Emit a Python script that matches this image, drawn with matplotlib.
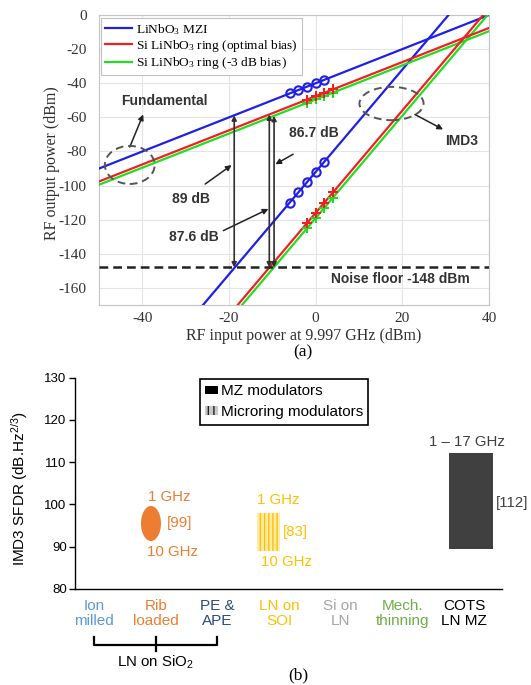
import matplotlib
matplotlib.use('Agg')
import matplotlib.pyplot as plt
from matplotlib.patches import Ellipse, Rectangle, Patch
from matplotlib.lines import Line2D

plt.rcParams['font.family'] = ['Liberation Sans', 'DejaVu Sans']
plt.rcParams['axes.unicode_minus'] = False
plt.rcParams['hatch.linewidth'] = 1.0
SERIF = ['Liberation Serif', 'DejaVu Serif']

# ---------------- (a) data ----------------
pin_range = [-50, 40]
mzi_fund = [-90.0, 0.0]
ring_opt_fund = [-97.6, -7.6]
ring_3db_fund = [-99.5, -9.5]
mzi_imd3 = [-242.0, 28.0]
ring_opt_imd3 = [-266.0, 4.0]
ring_3db_imd3 = [-269.0, 1.0]

mzi_meas_pin = [-6, -4, -2, 0, 2]
mzi_meas_fund = [-46, -44, -42, -40, -38]
mzi_meas_imd3 = [-110, -104, -98, -92, -86]
ring_meas_pin = [-2, 0, 2, 4]
ring_opt_meas_fund = [-49.6, -47.6, -45.6, -43.6]
ring_opt_meas_imd3 = [-122, -116, -110, -104]
ring_3db_meas_fund = [-51.5, -49.5, -47.5, -45.5]
ring_3db_meas_imd3 = [-125, -119, -113, -107]

noise_floor = -148
sfdr_pin = [-18.8, -10.7, -9.6]
sfdr_top = [-58.8, -58.3, -59.1]
sfdr_labels = ['89 dB', '87.6 dB', '86.7 dB']
series_labels = [r'$\mathregular{LiNbO_3}$ MZI',
                 r'Si $\mathregular{LiNbO_3}$ ring (optimal bias)',
                 r'Si $\mathregular{LiNbO_3}$ ring (-3 dB bias)']
series_colors = ['#1f1fe6', '#f02020', '#22dd22']

# ---------------- (b) data ----------------
categories = ['Ion\nmilled', 'Rib\nloaded', 'PE &\nAPE', 'LN on\nSOI',
              'Si on\nLN', 'Mech.\nthinning', 'COTS\nLN MZ']
cat_colors = ['#5B9BD5', '#ED7D31', '#2F4A7A', '#FFC000', '#A5A5A5',
              '#70AD47', '#000000']
rib_sfdr = [91.3, 99.6]
soi_sfdr = [89.0, 97.9]
cots_sfdr = [89.3, 112.1]
yticks_b = [80, 90, 100, 110, 120, 130]

W, H = 531, 685
fig = plt.figure(figsize=(W / 100, H / 100), dpi=100)

# ================= (a) =================
ax1 = fig.add_axes([99 / W, 1 - 305 / H, 390 / W, 290 / H])
ax1.set_xlim(-50, 40)
ax1.set_ylim(-170, 0)
ax1.set_xticks([-40, -20, 0, 20, 40])
ax1.set_yticks(list(range(-160, 1, 20)))
ax1.grid(True, color='#e4e4e4', lw=0.8)
ax1.set_axisbelow(True)
for s in ax1.spines.values():
    s.set_color('#c4c4c4')
    s.set_linewidth(0.8)
ax1.tick_params(length=0, labelsize=11, colors='#333333')
ax1.tick_params(axis='y', pad=9)
ax1.tick_params(axis='x', pad=5)
for t in ax1.get_xticklabels() + ax1.get_yticklabels():
    t.set_family(SERIF)

fund = [mzi_fund, ring_opt_fund, ring_3db_fund]
imd3 = [mzi_imd3, ring_opt_imd3, ring_3db_imd3]
for i in [0, 2, 1]:
    ax1.plot(pin_range, fund[i], color=series_colors[i], lw=1.6, zorder=3)
    ax1.plot(pin_range, imd3[i], color=series_colors[i], lw=1.6, zorder=3)

ax1.plot(mzi_meas_pin, mzi_meas_fund, 'o', mfc='none', mec=series_colors[0], ms=6, mew=1.5, zorder=4)
ax1.plot(mzi_meas_pin, mzi_meas_imd3, 'o', mfc='none', mec=series_colors[0], ms=6, mew=1.5, zorder=4)
ax1.plot(ring_meas_pin, ring_3db_meas_fund, '+', color=series_colors[2], ms=7, mew=1.5, zorder=4)
ax1.plot(ring_meas_pin, ring_3db_meas_imd3, '+', color=series_colors[2], ms=7, mew=1.5, zorder=4)
ax1.plot(ring_meas_pin, ring_opt_meas_fund, '+', color=series_colors[1], ms=7, mew=1.5, zorder=4)
ax1.plot(ring_meas_pin, ring_opt_meas_imd3, '+', color=series_colors[1], ms=7, mew=1.5, zorder=4)

ax1.axhline(noise_floor, color='#222222', lw=1.8, ls=(0, (3.5, 2)), zorder=5)

for xp, yt in zip(sfdr_pin, sfdr_top):
    ax1.annotate('', xy=(xp, noise_floor), xytext=(xp, yt),
                 arrowprops=dict(arrowstyle='<|-|>', color='#303030', lw=1.2,
                                 mutation_scale=7, shrinkA=0, shrinkB=0), zorder=6)

bold = dict(fontsize=10, fontweight='bold', color='#333333', ha='center', va='center')
ax1.text(-34.8, -50.7, 'Fundamental', **bold)
ax1.text(33.7, -73.9, 'IMD3', **bold)
ax1.text(-28.8, -107.9, sfdr_labels[0], **bold)
ax1.text(-28.2, -130.2, sfdr_labels[1], **bold)
ax1.text(-0.4, -69.0, sfdr_labels[2], **bold)
ax1.text(19.5, -154.5, 'Noise floor -148 dBm', **bold)

arr = dict(arrowstyle='-|>', color='#222222', lw=1.1, mutation_scale=8, shrinkA=0, shrinkB=0)
ax1.annotate('', xy=(-39.8, -58.3), xytext=(-42.9, -77.4), arrowprops=arr)
ax1.annotate('', xy=(29.4, -67.1), xytext=(22.9, -58.3), arrowprops=arr)
ax1.annotate('', xy=(-19.4, -88.0), xytext=(-25.5, -99.1), arrowprops=arr)
ax1.annotate('', xy=(-10.9, -113.7), xytext=(-21.3, -126.4), arrowprops=arr)
ax1.annotate('', xy=(-9.3, -87.5), xytext=(-5.2, -81.6), arrowprops=arr)

ax1.add_patch(Ellipse((-42.9, -87.9), 11.5, 22.3, fill=False, ec='#555555',
                      lw=1.4, ls=(0, (4, 2.5)), zorder=6))
ax1.add_patch(Ellipse((17.5, -51.9), 14.8, 19.5, fill=False, ec='#555555',
                      lw=1.4, ls=(0, (4, 2.5)), zorder=6))

leg_handles = [Line2D([], [], color=c, lw=1.6) for c in series_colors]
leg1 = ax1.legend(leg_handles, series_labels, loc='upper left',
                  bbox_to_anchor=(0.006, 0.99), prop={'family': SERIF, 'size': 9.6},
                  frameon=True, fancybox=False, edgecolor='#c0c0c0', framealpha=1,
                  handlelength=2.0, handletextpad=0.3, labelspacing=0.1,
                  borderpad=0.3, borderaxespad=0)
leg1.get_frame().set_linewidth(0.8)

ax1.set_xlabel('RF input power at 9.997 GHz (dBm)', family=SERIF, fontsize=11.5, color='#303030')
ax1.set_ylabel('RF output power (dBm)', family=SERIF, fontsize=11.5, color='#303030')
ax1.xaxis.set_label_coords(0.526, -0.106)
ax1.xaxis.label.set_va('center')
ax1.yaxis.set_label_coords(-0.1205, 0.49)
ax1.yaxis.label.set_va('center')

fig.text(302.7 / W, 1 - 352.5 / H, '(a)', family=SERIF, fontsize=12.5, ha='center', va='center')

# ================= (b) =================
ax2 = fig.add_axes([75 / W, 1 - 588.7 / H, 427 / W, 211 / H])
ax2.set_xlim(-0.308, 6.616)
ax2.set_ylim(80, 130)
ax2.set_yticks(yticks_b)
ax2.spines['top'].set_visible(False)
ax2.spines['right'].set_visible(False)
for s in ['left', 'bottom']:
    ax2.spines[s].set_color('black')
    ax2.spines[s].set_linewidth(1.0)
ax2.tick_params(axis='y', direction='out', length=4, width=1, labelsize=9.5, pad=2)
ax2.set_xticks(range(len(categories)))
ax2.set_xticklabels(categories, fontsize=11)
ax2.tick_params(axis='x', length=0, pad=7.5)
for t, c in zip(ax2.get_xticklabels(), cat_colors):
    t.set_color(c)
    t.set_linespacing(1.1)

# Rib loaded (microring, ellipse)
ax2.add_patch(Ellipse((0.924, (rib_sfdr[0] + rib_sfdr[1]) / 2), 0.324,
                      rib_sfdr[1] - rib_sfdr[0], color=cat_colors[1], lw=0))
ax2.text(1.216, 101.7, '1 GHz', color=cat_colors[1], fontsize=10.8, ha='center', va='center')
ax2.text(1.18, 95.6, '[99]', color=cat_colors[1], fontsize=10.8, ha='left', va='center')
ax2.text(1.265, 88.7, '10 GHz', color=cat_colors[1], fontsize=10.8, ha='center', va='center')

# LN on SOI (microring, striped)
ax2.add_patch(Rectangle((2.65, soi_sfdr[0]), 0.36, soi_sfdr[1] - soi_sfdr[0],
                        facecolor='#FFEBA8', edgecolor=cat_colors[3], hatch='||||', lw=0))
ax2.text(2.99, 101.0, '1 GHz', color=cat_colors[3], fontsize=10.8, ha='center', va='center')
ax2.text(3.07, 93.5, '[83]', color=cat_colors[3], fontsize=10.8, ha='left', va='center')
ax2.text(3.12, 86.4, '10 GHz', color=cat_colors[3], fontsize=10.8, ha='center', va='center')

# COTS LN MZ
ax2.bar(6.11, cots_sfdr[1] - cots_sfdr[0], bottom=cots_sfdr[0], width=0.71, color='#404040')
ax2.text(6.05, 114.8, '1 \u2013 17 GHz', color='#404040', fontsize=10.8, ha='center', va='center')
ax2.text(6.52, 100.3, '[112]', color='#404040', fontsize=10.8, ha='left', va='center')

leg_b = [Patch(facecolor='black', edgecolor='black', lw=0),
         Patch(facecolor='#c8c8c8', edgecolor='#222222', hatch='|||', lw=0)]
leg2 = ax2.legend(leg_b, ['MZ modulators', 'Microring modulators'], loc='upper left',
                  bbox_to_anchor=(0.293, 0.994), fontsize=11, frameon=True,
                  fancybox=False, edgecolor='black', framealpha=1,
                  handlelength=0.8, handleheight=0.5, handletextpad=0.2,
                  labelspacing=0.45, borderpad=0.35, borderaxespad=0)
leg2.get_frame().set_linewidth(1.2)

ax2.set_ylabel(r'IMD3 SFDR (dB.Hz$\mathregular{^{2/3}}$)', fontsize=11)
ax2.yaxis.set_label_coords(-0.131, 0.472)
ax2.yaxis.label.set_va('center')

# LN on SiO2 bracket
tr = ax2.get_xaxis_transform()
ax2.plot([0, 0, 2, 2], [-0.229, -0.267, -0.267, -0.229], color='black', lw=1.6,
         transform=tr, clip_on=False)
ax2.plot([1, 1], [-0.229, -0.296], color='black', lw=1.6, transform=tr, clip_on=False)
ax2.text(1, -0.347, r'LN on SiO$\mathregular{_2}$', fontsize=10.8, ha='center', va='center',
         transform=tr)

fig.text(298 / W, 1 - 675 / H, '(b)', family=SERIF, fontsize=12.5, ha='center', va='center')

fig.savefig('out.png', dpi=100)
